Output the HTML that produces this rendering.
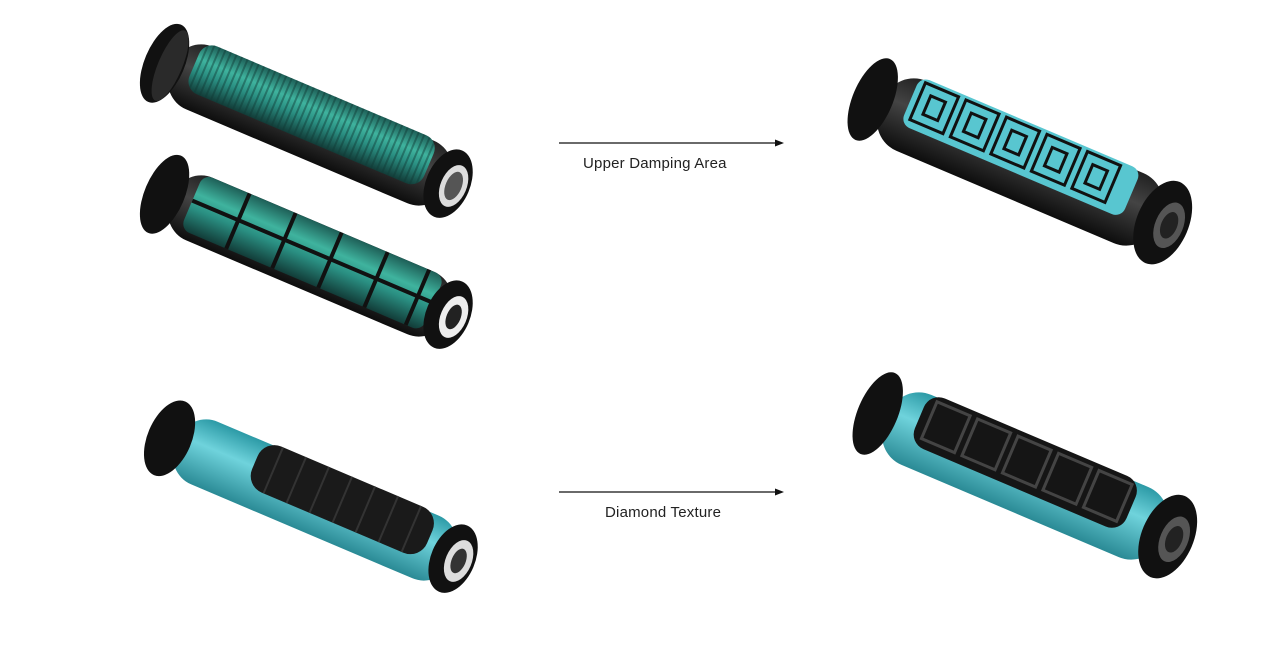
<!DOCTYPE html>
<html><head><meta charset="utf-8"><style>
html,body{margin:0;padding:0;background:#fff;}
body{width:1271px;height:661px;overflow:hidden;position:relative;font-family:"Liberation Sans",sans-serif;}
.lbl{position:absolute;font-size:15px;color:#222;letter-spacing:0.2px}
</style></head><body>
<svg width="1271" height="661" viewBox="0 0 1271 661" style="position:absolute;left:0;top:0">
<defs>
<linearGradient id="tealG" x1="0" y1="0" x2="0" y2="1">
<stop offset="0" stop-color="#1e5f57"/><stop offset="0.35" stop-color="#3fb39e"/><stop offset="0.6" stop-color="#2a8f82"/><stop offset="1" stop-color="#123c38"/></linearGradient>
<linearGradient id="blkG" x1="0" y1="0" x2="0" y2="1">
<stop offset="0" stop-color="#222"/><stop offset="0.4" stop-color="#444"/><stop offset="1" stop-color="#0d0d0d"/></linearGradient>
<linearGradient id="cyanG" x1="0" y1="0" x2="0" y2="1">
<stop offset="0" stop-color="#2c9aa6"/><stop offset="0.4" stop-color="#6fd3dc"/><stop offset="1" stop-color="#2a8a95"/></linearGradient>
<pattern id="ribs" width="6" height="10" patternUnits="userSpaceOnUse"><rect width="2" height="10" fill="#0f3a36" opacity="0.45"/></pattern>
</defs>

<!-- Grip 1 -->
<g transform="translate(310,125) rotate(23)">
<rect x="-150" y="-34" width="300" height="68" rx="30" fill="url(#blkG)"/>
<rect x="-130" y="-36" width="255" height="52" rx="14" fill="url(#tealG)"/>
<rect x="-130" y="-36" width="255" height="52" rx="14" fill="url(#ribs)"/>
<ellipse cx="-158" cy="0" rx="20" ry="42" fill="#111"/>
<ellipse cx="-152" cy="0" rx="12" ry="38" fill="#2a2a2a"/>
<ellipse cx="150" cy="0" rx="22" ry="36" fill="#111"/>
<ellipse cx="156" cy="0" rx="13" ry="22" fill="#ddd"/>
<ellipse cx="156" cy="0" rx="8" ry="15" fill="#555"/>
</g>
<!-- Grip 2 -->
<g transform="translate(310,256) rotate(23)">
<rect x="-150" y="-34" width="300" height="68" rx="30" fill="url(#blkG)"/>
<rect x="-130" y="-34" width="262" height="60" rx="10" fill="url(#tealG)"/>
<g stroke="#111" stroke-width="4"><line x1="-80" y1="-34" x2="-80" y2="26"/><line x1="-30" y1="-34" x2="-30" y2="26"/><line x1="20" y1="-34" x2="20" y2="26"/><line x1="70" y1="-34" x2="70" y2="26"/><line x1="115" y1="-34" x2="115" y2="26"/><line x1="-130" y1="-5" x2="132" y2="-5"/></g>
<ellipse cx="-158" cy="0" rx="20" ry="42" fill="#111"/>
<ellipse cx="150" cy="0" rx="22" ry="36" fill="#111"/>
<ellipse cx="156" cy="0" rx="13" ry="22" fill="#eee"/>
<ellipse cx="156" cy="0" rx="7" ry="13" fill="#222"/>
</g>
<!-- Grip 3 -->
<g transform="translate(315,500) rotate(23)">
<rect x="-150" y="-34" width="300" height="68" rx="30" fill="url(#cyanG)"/>
<rect x="-70" y="-36" width="190" height="50" rx="18" fill="#1a1a1a"/>
<g stroke="#333" stroke-width="2"><line x1="-50" y1="-36" x2="-50" y2="14"/><line x1="-25" y1="-36" x2="-25" y2="14"/><line x1="0" y1="-36" x2="0" y2="14"/><line x1="25" y1="-36" x2="25" y2="14"/><line x1="50" y1="-36" x2="50" y2="14"/><line x1="75" y1="-36" x2="75" y2="14"/><line x1="100" y1="-36" x2="100" y2="14"/></g>
<ellipse cx="-158" cy="0" rx="22" ry="40" fill="#111"/>
<ellipse cx="150" cy="0" rx="22" ry="36" fill="#111"/>
<ellipse cx="156" cy="0" rx="13" ry="22" fill="#ddd"/>
<ellipse cx="156" cy="0" rx="7" ry="13" fill="#333"/>
</g>
<!-- Right grip 1 -->
<g transform="translate(1020,162) rotate(23)">
<rect x="-150" y="-38" width="300" height="76" rx="32" fill="url(#blkG)"/>
<rect x="-125" y="-40" width="240" height="52" rx="10" fill="#58c6d0"/>
<g stroke="#111" stroke-width="3" fill="none"><rect x="-118" y="-36" width="36" height="40"/><rect x="-74" y="-36" width="36" height="40"/><rect x="-30" y="-36" width="36" height="40"/><rect x="14" y="-36" width="36" height="40"/><rect x="58" y="-36" width="36" height="40"/><rect x="-108" y="-26" width="16" height="20"/><rect x="-64" y="-26" width="16" height="20"/><rect x="-20" y="-26" width="16" height="20"/><rect x="24" y="-26" width="16" height="20"/><rect x="68" y="-26" width="16" height="20"/></g>
<ellipse cx="-160" cy="0" rx="20" ry="44" fill="#111"/>
<ellipse cx="155" cy="0" rx="26" ry="44" fill="#111"/>
<ellipse cx="162" cy="0" rx="14" ry="24" fill="#555"/>
<ellipse cx="162" cy="0" rx="8" ry="14" fill="#222"/>
</g>
<!-- Right grip 2 -->
<g transform="translate(1025,476) rotate(23)">
<rect x="-150" y="-38" width="300" height="76" rx="32" fill="url(#cyanG)"/>
<rect x="-120" y="-40" width="230" height="55" rx="16" fill="#151515"/>
<g stroke="#444" stroke-width="3" fill="none"><rect x="-110" y="-34" width="36" height="40"/><rect x="-66" y="-34" width="36" height="40"/><rect x="-22" y="-34" width="36" height="40"/><rect x="22" y="-34" width="36" height="40"/><rect x="66" y="-34" width="36" height="40"/></g>
<ellipse cx="-160" cy="0" rx="20" ry="44" fill="#111"/>
<ellipse cx="155" cy="0" rx="26" ry="44" fill="#111"/>
<ellipse cx="162" cy="0" rx="14" ry="24" fill="#555"/>
<ellipse cx="162" cy="0" rx="8" ry="14" fill="#222"/>
</g>

<!-- arrows -->
<line x1="559" y1="143" x2="776" y2="143" stroke="#111" stroke-width="1.3"/>
<polygon points="784,143 775,139.5 775,146.5" fill="#111"/>
<line x1="559" y1="492" x2="776" y2="492" stroke="#111" stroke-width="1.3"/>
<polygon points="784,492 775,488.5 775,495.5" fill="#111"/>
</svg>
<div class="lbl" style="left:583px;top:155px">Upper Damping Area</div>
<div class="lbl" style="left:605px;top:504px">Diamond Texture</div>
</body></html>
